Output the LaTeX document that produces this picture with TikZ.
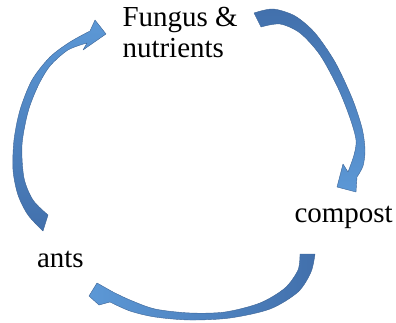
\documentclass[tikz,border=0pt]{standalone}
\usepackage{fontspec}
\setmainfont{Liberation Serif}
\newfontfamily\lblfont{Liberation Serif}
\definecolor{arrdark}{RGB}{66,112,172}
\definecolor{arrlite}{RGB}{92,152,214}
\definecolor{arredge}{RGB}{60,100,150}
\tikzset{
  lbl/.style={anchor=base west, inner sep=0pt, outer sep=0pt, font=\lblfont\fontsize{29}{31}\selectfont, align=left},
  arrshape/.style={draw=arredge, line width=0.4pt, line join=round},
}
\begin{document}
\begin{tikzpicture}[x=1pt,y=-1pt]
\useasboundingbox (0,0) rectangle (396,323);
\node[lbl] (fungus) at (122.5,58) {Fungus \&\\nutrients};
\node[lbl] (compost) at (294.5,222.5) {compost};
\node[lbl] (ants) at (37,267.5) {ants};
% ants -> fungus
\path[arrshape, top color=arrlite, bottom color=arrdark]
  plot[smooth] coordinates {(43,231) (28,215) (18,195) (13,170) (14,140) (20,110) (32,80) (50,57) (70,42) (90,31)}
  -- (95,20) -- (106,34) -- (83,50) -- (87,43)
  -- plot[smooth] coordinates {(87,43) (68,50) (50,66) (38,86) (28,112) (22,145) (24,178) (33,200) (48,215)}
  -- cycle;
% fungus -> compost
\path[arrshape, top color=arrdark, bottom color=arrlite]
  plot[smooth] coordinates {(254,13) (273,9) (295,16) (315,33) (335,62) (352,98) (362,128) (365,150) (363,166) (357,177)}
  -- (356,192) -- (337,187) -- (343,164) -- (348,172)
  -- plot[smooth] coordinates {(348,172) (354,155) (356,140) (350,118) (338,88) (320,55) (300,33) (280,24) (261,27)}
  -- cycle;
% compost -> ants
\path[arrshape, left color=arrlite, right color=arrdark]
  plot[smooth] coordinates {(315,254) (311,272) (298,292) (270,309) (230,318) (190,320) (155,317) (130,311) (110,302)}
  -- (99,305) -- (89,296) -- (97,283) -- (113,292)
  -- plot[smooth] coordinates {(113,292) (130,300) (155,309) (190,313) (225,312) (260,303) (285,288) (298,270) (300,254)}
  -- cycle;
\end{tikzpicture}
\end{document}
